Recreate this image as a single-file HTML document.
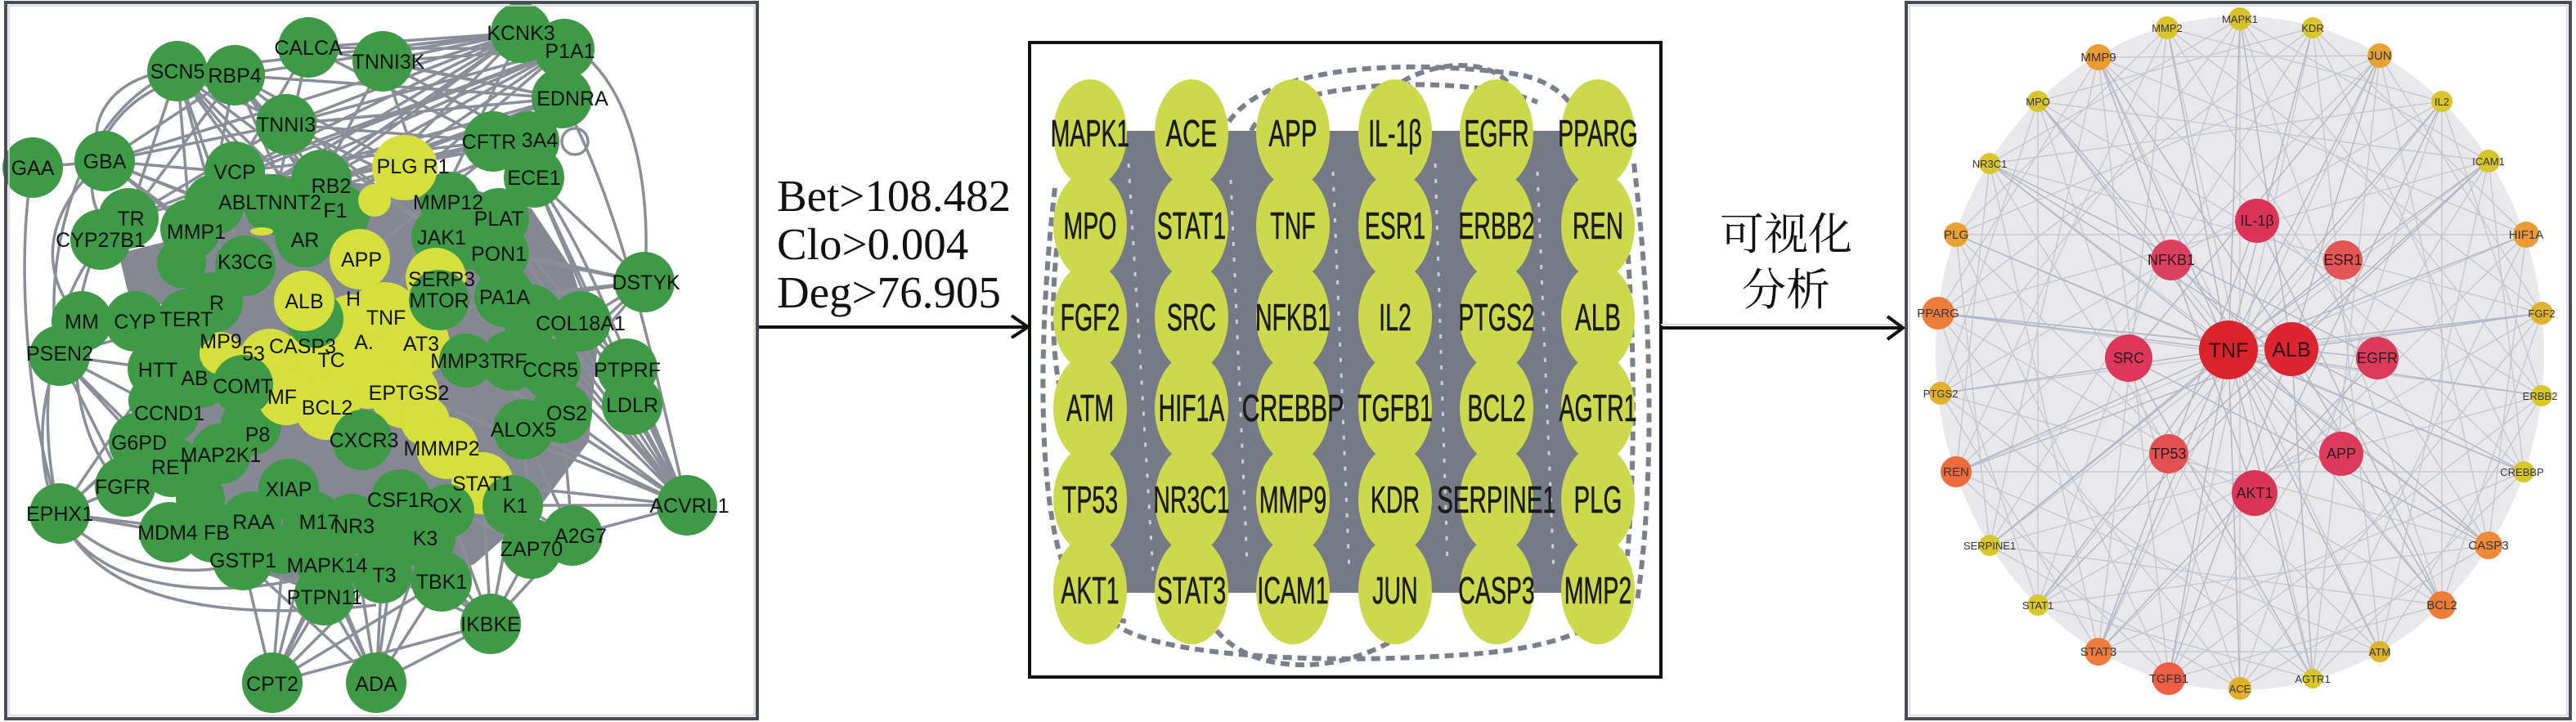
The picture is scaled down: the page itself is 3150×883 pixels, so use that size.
<!DOCTYPE html>
<html>
<head>
<meta charset="utf-8">
<style>
html,body{margin:0;padding:0;background:#fff;}
body{width:3150px;height:883px;overflow:hidden;}
svg{display:block;}
.lt{font-family:"Liberation Sans",Arial,sans-serif;font-size:25px;fill:#111;text-anchor:middle;}
.mt{font-family:"Liberation Sans",Arial,sans-serif;font-size:46px;fill:#1b1b1b;stroke:#1b1b1b;stroke-width:0.6;text-anchor:middle;}
.rt{font-family:"Liberation Sans",Arial,sans-serif;fill:#33333c;text-anchor:middle;}
.rs{font-size:13px;}
.rm{font-size:15px;}
.ri{font-size:18px;fill:#2a1a1e;}
.rb{font-size:25px;fill:#2a1012;}
.ser{font-family:"Liberation Serif","Times New Roman",serif;font-size:55px;fill:#111;}
.cjk{font-family:"Liberation Serif","Noto Serif CJK SC","Noto Sans CJK SC",serif;font-size:54px;fill:#111;text-anchor:middle;}
</style>
</head>
<body>
<svg width="3150" height="883" viewBox="0 0 3150 883" xmlns="http://www.w3.org/2000/svg">
<rect x="0" y="0" width="3150" height="883" fill="#fff"/>

<!-- ================= LEFT PANEL ================= -->
<g id="left">
  <!-- dense gray core -->
  <polygon fill="#858893" points="200,310 250,245 330,215 450,225 560,225 650,255 700,330 730,430 720,540 660,620 580,690 480,725 360,715 290,690 240,630 210,560 200,440"/>
  <polygon fill="#858893" points="145,310 205,295 220,372 160,372"/>
  <!-- edge lines -->
  <g fill="none" stroke="#8b8e99" stroke-width="3.5">
    <path d="M217 87L393 220M217 87L335 250M217 87L300 325M217 87L157 267M217 87L420 290M217 87L470 390M217 87L350 152M217 87L262 250M217 87L233 280
             M287 92L440 317M287 92L540 290M287 92L610 267M287 92L230 390M287 92L373 290M287 92L393 220M287 92L415 262M287 92L157 267
             M377 58L637 40M377 58L690 60M377 58L687 120M468 75L637 40M468 75L690 60M468 75L687 120M377 58L603 173M468 75L647 173M377 58L335 250M377 58L287 210M468 75L393 220M468 75L540 290
             M637 40L287 92M637 40L217 87M637 40L287 210M637 40L335 250M637 40L128 197M637 40L393 220M637 40L470 390M637 40L233 280M637 40L350 152M637 40L415 262
             M690 60L350 152M690 60L287 210M690 60L157 267M690 60L300 325M690 60L420 290M690 60L262 250M690 60L393 220
             M687 120L287 92M687 120L217 87M687 120L377 58M687 120L233 280M687 120L335 250M687 120L157 267M687 120L350 152M687 120L440 317
             M350 152L128 197M350 152L157 267M350 152L603 173M350 152L540 290M350 152L637 40M350 152L550 247
             M128 197L287 92M128 197L393 220M128 197L300 325M128 197L233 280M128 197L440 317M40 205L128 197M128 197L350 152M128 197L262 250
             M603 173L287 210M603 173L262 250M603 173L335 250M647 173L393 220M647 173L300 325
             M788 345L653 217M788 345L610 310M788 345L617 363M788 345L470 390M788 345L540 290M788 345L640 525M788 345L673 451M788 345L710 393
             M840 618L653 217M840 618L610 267M840 618L617 363M840 618L710 393M840 618L673 451M840 618L640 525M840 618L570 441M840 618L590 591M840 618L500 480M840 618L767 451M840 618L773 495M840 618L687 505M840 618L610 310M840 618L650 385M840 618L627 618M840 618L700 655
             M773 495L653 217M767 451L610 267M773 495L617 363M767 451L650 385M773 495L540 290M767 451L610 310
             M333 835L297 685M333 835L400 691M333 835L353 598M333 835L430 641M333 835L540 711M333 835L600 763M333 835L397 728M333 835L383 638M333 835L467 701
             M460 835L400 691M460 835L397 728M460 835L540 711M460 835L430 641M460 835L467 701M460 835L600 763M460 835L353 598M460 835L297 685M460 835L520 658M460 835L490 611
             M600 763L520 658M600 763L540 711M600 763L547 618M600 763L467 701M600 763L650 671M600 763L700 655M600 763L443 617M600 763L590 591M600 763L430 641M600 763L627 618
             M73 628L153 595M73 628L170 541M73 628L207 651M73 628L193 451M73 628L207 505M73 628L260 651M73 628L210 571
             M73 435L153 595M73 435L170 541M73 435L207 505M73 435L193 451M73 435L210 571M73 435L165 393M73 435L230 390
             M700 655L590 591M700 655L640 525M650 671L547 618M650 671L590 591M700 655L687 505M650 671L640 525"/>
    <path d="M217 87C130 90 100 160 128 200M287 92C150 80 90 200 120 260M217 87C80 140 50 350 73 435M160 267C60 330 40 500 73 628M123 293C70 400 90 550 153 595M73 628C110 720 260 740 400 700M73 628C140 700 250 710 297 685M73 435C40 500 50 600 73 628M653 217C720 300 790 500 840 618M687 120C760 250 800 450 840 618M637 40C760 40 800 200 788 345M40 205C20 300 30 500 73 628M128 197C60 250 40 330 100 393M73 628C120 740 280 760 460 740"/>
    <circle cx="703" cy="173" r="16"/>
  </g>
  <!-- background green nodes -->
  <g fill="#3f9a47">
    <circle cx="40" cy="205" r="37"/><circle cx="128" cy="197" r="37"/><circle cx="217" cy="87" r="37"/><circle cx="287" cy="92" r="37"/>
    <circle cx="377" cy="58" r="37"/><circle cx="468" cy="75" r="37"/><circle cx="637" cy="40" r="37"/><circle cx="690" cy="60" r="37"/>
    <circle cx="687" cy="120" r="37"/><circle cx="603" cy="173" r="37"/><circle cx="647" cy="173" r="37"/><circle cx="653" cy="217" r="37"/>
    <circle cx="350" cy="152" r="37"/><circle cx="287" cy="210" r="37"/><circle cx="393" cy="220" r="37"/><circle cx="262" cy="250" r="37"/>
    <circle cx="335" cy="250" r="37"/><circle cx="415" cy="262" r="37"/><circle cx="157" cy="267" r="37"/><circle cx="123" cy="293" r="37"/>
    <circle cx="233" cy="280" r="37"/><circle cx="373" cy="290" r="37"/><circle cx="300" cy="325" r="37"/><circle cx="222" cy="322" r="30"/>
    <circle cx="550" cy="247" r="37"/><circle cx="610" cy="267" r="37"/><circle cx="540" cy="290" r="37"/><circle cx="610" cy="310" r="37"/>
    <circle cx="575" cy="300" r="30"/><circle cx="617" cy="363" r="37"/><circle cx="650" cy="385" r="37"/><circle cx="710" cy="393" r="37"/>
    <circle cx="788" cy="345" r="37"/><circle cx="100" cy="393" r="37"/><circle cx="165" cy="393" r="37"/><circle cx="260" cy="370" r="37"/>
    <circle cx="73" cy="435" r="37"/><circle cx="193" cy="451" r="37"/><circle cx="245" cy="462" r="37"/><circle cx="207" cy="505" r="37"/>
    <circle cx="170" cy="541" r="37"/><circle cx="307" cy="520" r="37"/><circle cx="270" cy="555" r="37"/><circle cx="210" cy="571" r="37"/>
    <circle cx="153" cy="595" r="37"/><circle cx="73" cy="628" r="37"/><circle cx="207" cy="651" r="37"/><circle cx="260" cy="651" r="37"/>
    <circle cx="307" cy="638" r="37"/><circle cx="383" cy="638" r="37"/><circle cx="430" cy="641" r="37"/><circle cx="297" cy="685" r="37"/>
    <circle cx="400" cy="691" r="37"/><circle cx="397" cy="728" r="37"/><circle cx="467" cy="701" r="37"/><circle cx="333" cy="835" r="37"/>
    <circle cx="460" cy="835" r="37"/><circle cx="625" cy="441" r="37"/><circle cx="673" cy="451" r="37"/><circle cx="767" cy="451" r="37"/>
    <circle cx="773" cy="495" r="37"/><circle cx="687" cy="505" r="37"/><circle cx="520" cy="658" r="37"/><circle cx="840" cy="618" r="37"/>
    <circle cx="700" cy="655" r="37"/><circle cx="650" cy="671" r="37"/><circle cx="540" cy="711" r="37"/><circle cx="600" cy="763" r="37"/>
    <circle cx="345" cy="672" r="30"/><circle cx="480" cy="655" r="32"/><circle cx="245" cy="610" r="30"/>
    <circle cx="215" cy="425" r="30"/><circle cx="185" cy="490" r="28"/>
  </g>
  <!-- yellow blob -->
  <g fill="#d5df3d">
    <circle cx="495" cy="205" r="40"/><circle cx="458" cy="245" r="20"/>
    <circle cx="440" cy="317" r="37"/><circle cx="533" cy="340" r="37"/>
    <circle cx="470" cy="390" r="45"/><circle cx="430" cy="400" r="40"/><circle cx="510" cy="420" r="40"/>
    <circle cx="390" cy="440" r="45"/><circle cx="330" cy="440" r="38"/><circle cx="270" cy="432" r="26"/>
    <circle cx="450" cy="455" r="45"/><circle cx="400" cy="498" r="40"/><circle cx="350" cy="485" r="35"/>
    <circle cx="495" cy="482" r="42"/><circle cx="520" cy="515" r="30"/><circle cx="547" cy="548" r="38"/><circle cx="590" cy="591" r="38"/>
    <ellipse cx="320" cy="283" rx="14" ry="5"/>
  </g>
  <!-- foreground green -->
  <g fill="#3f9a47">
    <circle cx="537" cy="367" r="37"/><circle cx="230" cy="390" r="37"/><circle cx="297" cy="471" r="37"/><circle cx="353" cy="598" r="37"/>
    <circle cx="443" cy="538" r="37"/><circle cx="490" cy="611" r="37"/><circle cx="547" cy="625" r="33"/><circle cx="627" cy="618" r="37"/>
    <circle cx="640" cy="525" r="37"/><circle cx="570" cy="441" r="33"/><circle cx="385" cy="390" r="35"/>
  </g>
  <circle cx="372" cy="368" r="37" fill="#d5df3d"/>
  <!-- labels -->
  <g class="lt">
    <text x="40" y="214">GAA</text><text x="128" y="206">GBA</text><text x="217" y="96">SCN5</text><text x="287" y="101">RBP4</text>
    <text x="377" y="67">CALCA</text><text x="475" y="84">TNNI3K</text><text x="637" y="49">KCNK3</text><text x="697" y="71">P1A1</text>
    <text x="700" y="129">EDNRA</text><text x="598" y="182">CFTR</text><text x="660" y="180">3A4</text><text x="653" y="226">ECE1</text>
    <text x="350" y="161">TNNI3</text><text x="287" y="219">VCP</text><text x="405" y="236">RB2</text><text x="330" y="256">ABLTNNT2</text>
    <text x="410" y="266">F1</text><text x="160" y="276">TR</text><text x="123" y="302">CYP27B1</text><text x="240" y="292">MMP1</text>
    <text x="373" y="302">AR</text><text x="300" y="329">K3CG</text><text x="442" y="326">APP</text><text x="505" y="212">PLG R1</text>
    <text x="548" y="256">MMP12</text><text x="610" y="276">PLAT</text><text x="540" y="299">JAK1</text><text x="610" y="319">PON1</text>
    <text x="540" y="350">SERP3</text>
    <text x="537" y="376">MTOR</text><text x="617" y="372">PA1A</text><text x="790" y="354">DSTYK</text><text x="710" y="404">COL18A1</text>
    <text x="100" y="402">MM</text><text x="165" y="402">CYP</text><text x="228" y="399">TERT</text><text x="265" y="379">R</text>
    <text x="73" y="441">PSEN2</text><text x="193" y="461">HTT</text><text x="238" y="471">AB</text><text x="297" y="481">COMT</text>
    <text x="207" y="514">CCND1</text><text x="170" y="550">G6PD</text><text x="315" y="540">P8</text><text x="270" y="565">MAP2K1</text>
    <text x="210" y="580">RET</text><text x="150" y="604">FGFR</text><text x="73" y="637">EPHX1</text><text x="353" y="607">XIAP</text>
    <text x="205" y="660">MDM4</text><text x="265" y="660">FB</text><text x="310" y="647">RAA</text><text x="390" y="647">M17</text>
    <text x="433" y="652">NR3</text><text x="297" y="694">GSTP1</text><text x="400" y="700">MAPK14</text><text x="397" y="739">PTPN11</text>
    <text x="470" y="712">T3</text><text x="333" y="845">CPT2</text><text x="460" y="845">ADA</text><text x="570" y="450">MMP3T</text>
    <text x="628" y="450">RF</text><text x="673" y="461">CCR5</text><text x="767" y="461">PTPRF</text><text x="773" y="504">LDLR</text>
    <text x="693" y="514">OS2</text><text x="640" y="534">ALOX5</text><text x="445" y="547">CXCR3</text><text x="490" y="620">CSF1R</text>
    <text x="547" y="627">OX</text><text x="630" y="627">K1</text><text x="520" y="667">K3</text><text x="843" y="627">ACVRL1</text>
    <text x="710" y="664">A2G7</text><text x="650" y="680">ZAP70</text><text x="540" y="720">TBK1</text><text x="600" y="772">IKBKE</text>
    <text x="372" y="377">ALB</text><text x="472" y="397">TNF</text><text x="432" y="374">H</text><text x="515" y="429">AT3</text>
    <text x="370" y="432">CASP3</text><text x="270" y="426">MP9</text><text x="310" y="441">53</text><text x="405" y="449">TC</text>
    <text x="445" y="427">A.</text><text x="345" y="494">MF</text><text x="400" y="507">BCL2</text><text x="500" y="489">EPTGS2</text>
    <text x="540" y="557">MMMP2</text><text x="590" y="600">STAT1</text>
  </g>
  <!-- panel border -->
  <rect x="7" y="3" width="919" height="876" fill="none" stroke="#4a4d57" stroke-width="4"/>
  <rect x="11" y="7" width="911" height="868" fill="none" stroke="#d4d4d8" stroke-width="1.5"/>
</g>

<!-- ================= ARROW 1 ================= -->
<g>
  <line x1="928" y1="400" x2="1256" y2="400" stroke="#111" stroke-width="4"/>
  <polyline points="1237,386 1257,400 1237,413" fill="none" stroke="#111" stroke-width="4"/>
  <text class="ser" x="950" y="258">Bet&gt;108.482</text>
  <text class="ser" x="950" y="317">Clo&gt;0.004</text>
  <text class="ser" x="950" y="376">Deg&gt;76.905</text>
</g>

<!-- ================= MIDDLE PANEL ================= -->
<g id="mid">
  <rect x="1332" y="160" width="622" height="565" fill="#767a86"/>
  <g stroke="#f4f4f4" stroke-width="3" stroke-dasharray="5 14" fill="none" opacity="0.7">
    <path d="M1380 200L1410 700M1505 220L1525 690M1630 210L1650 700M1755 200L1770 690M1880 210L1900 700"/>
  </g>
  <g fill="none" stroke="#7b7f8b" stroke-width="6" stroke-dasharray="11 7">
    <path d="M1290 230C1270 400 1268 600 1300 690"/>
    <path d="M1300 250C1285 330 1285 420 1295 470"/>
    <path d="M1490 200C1480 80 1700 70 1850 90C1920 100 1945 150 1938 200"/>
    <path d="M1530 160C1560 95 1800 90 1880 125"/>
    <path d="M1700 110C1750 70 1830 70 1850 110"/>
    <path d="M1998 200C2022 400 2022 600 2002 735"/>
    <path d="M1985 240C2000 400 2000 560 1990 680"/>
    <path d="M1360 760C1400 800 1600 815 1800 800C1900 792 1960 770 1982 730"/>
    <path d="M1470 740C1500 825 1620 830 1700 785"/>
    <path d="M1330 700C1330 740 1360 760 1380 760"/>
  </g>
  <g fill="#cdd94d">
    <ellipse cx="1333" cy="163" rx="45" ry="66"/><ellipse cx="1457" cy="163" rx="45" ry="66"/><ellipse cx="1581" cy="163" rx="45" ry="66"/><ellipse cx="1706" cy="163" rx="45" ry="66"/><ellipse cx="1830" cy="163" rx="45" ry="66"/><ellipse cx="1954" cy="163" rx="45" ry="66"/>
    <ellipse cx="1333" cy="276" rx="45" ry="66"/><ellipse cx="1457" cy="276" rx="45" ry="66"/><ellipse cx="1581" cy="276" rx="45" ry="66"/><ellipse cx="1706" cy="276" rx="45" ry="66"/><ellipse cx="1830" cy="276" rx="45" ry="66"/><ellipse cx="1954" cy="276" rx="45" ry="66"/>
    <ellipse cx="1333" cy="388" rx="45" ry="66"/><ellipse cx="1457" cy="388" rx="45" ry="66"/><ellipse cx="1581" cy="388" rx="45" ry="66"/><ellipse cx="1706" cy="388" rx="45" ry="66"/><ellipse cx="1830" cy="388" rx="45" ry="66"/><ellipse cx="1954" cy="388" rx="45" ry="66"/>
    <ellipse cx="1333" cy="499" rx="45" ry="66"/><ellipse cx="1457" cy="499" rx="45" ry="66"/><ellipse cx="1581" cy="499" rx="45" ry="66"/><ellipse cx="1706" cy="499" rx="45" ry="66"/><ellipse cx="1830" cy="499" rx="45" ry="66"/><ellipse cx="1954" cy="499" rx="45" ry="66"/>
    <ellipse cx="1333" cy="611" rx="45" ry="66"/><ellipse cx="1457" cy="611" rx="45" ry="66"/><ellipse cx="1581" cy="611" rx="45" ry="66"/><ellipse cx="1706" cy="611" rx="45" ry="66"/><ellipse cx="1830" cy="611" rx="45" ry="66"/><ellipse cx="1954" cy="611" rx="45" ry="66"/>
    <ellipse cx="1333" cy="722" rx="45" ry="66"/><ellipse cx="1457" cy="722" rx="45" ry="66"/><ellipse cx="1581" cy="722" rx="45" ry="66"/><ellipse cx="1706" cy="722" rx="45" ry="66"/><ellipse cx="1830" cy="722" rx="45" ry="66"/><ellipse cx="1954" cy="722" rx="45" ry="66"/>
  </g>
  <g class="mt">
    <text transform="translate(1333,179) scale(0.62,1)">MAPK1</text><text transform="translate(1457,179) scale(0.66,1)">ACE</text><text transform="translate(1581,179) scale(0.64,1)">APP</text><text transform="translate(1706,179) scale(0.62,1)">IL-1β</text><text transform="translate(1830,179) scale(0.62,1)">EGFR</text><text transform="translate(1954,179) scale(0.62,1)">PPARG</text>
    <text transform="translate(1333,292) scale(0.62,1)">MPO</text><text transform="translate(1457,292) scale(0.62,1)">STAT1</text><text transform="translate(1581,292) scale(0.62,1)">TNF</text><text transform="translate(1706,292) scale(0.62,1)">ESR1</text><text transform="translate(1830,292) scale(0.62,1)">ERBB2</text><text transform="translate(1954,292) scale(0.64,1)">REN</text>
    <text transform="translate(1333,404) scale(0.62,1)">FGF2</text><text transform="translate(1457,404) scale(0.62,1)">SRC</text><text transform="translate(1581,404) scale(0.62,1)">NFKB1</text><text transform="translate(1706,404) scale(0.62,1)">IL2</text><text transform="translate(1830,404) scale(0.62,1)">PTGS2</text><text transform="translate(1954,404) scale(0.64,1)">ALB</text>
    <text transform="translate(1333,515) scale(0.62,1)">ATM</text><text transform="translate(1457,515) scale(0.62,1)">HIF1A</text><text transform="translate(1581,515) scale(0.66,1)">CREBBP</text><text transform="translate(1706,515) scale(0.62,1)">TGFB1</text><text transform="translate(1830,515) scale(0.62,1)">BCL2</text><text transform="translate(1954,515) scale(0.62,1)">AGTR1</text>
    <text transform="translate(1333,627) scale(0.62,1)">TP53</text><text transform="translate(1457,627) scale(0.62,1)">NR3C1</text><text transform="translate(1581,627) scale(0.62,1)">MMP9</text><text transform="translate(1706,627) scale(0.62,1)">KDR</text><text transform="translate(1830,627) scale(0.64,1)">SERPINE1</text><text transform="translate(1954,627) scale(0.64,1)">PLG</text>
    <text transform="translate(1333,738) scale(0.62,1)">AKT1</text><text transform="translate(1457,738) scale(0.62,1)">STAT3</text><text transform="translate(1581,738) scale(0.62,1)">ICAM1</text><text transform="translate(1706,738) scale(0.62,1)">JUN</text><text transform="translate(1830,738) scale(0.62,1)">CASP3</text><text transform="translate(1954,738) scale(0.62,1)">MMP2</text>
  </g>
  <rect x="1259" y="52" width="772" height="776" fill="none" stroke="#111" stroke-width="4"/>
</g>

<!-- ================= ARROW 2 ================= -->
<g>
  <line x1="2031" y1="397" x2="2327" y2="397" stroke="#d8d8d8" stroke-width="2"/>
  <line x1="2031" y1="401" x2="2326" y2="401" stroke="#111" stroke-width="4"/>
  <polyline points="2308,387 2327,401 2308,415" fill="none" stroke="#111" stroke-width="4"/>
  <text class="cjk" x="2184" y="305">可视化</text>
  <text class="cjk" x="2184" y="373">分析</text>
</g>

<!-- ================= RIGHT PANEL ================= -->
<g id="right">
  <ellipse cx="2739" cy="432" rx="372" ry="412" fill="#e9e9ec"/>
  <g fill="none" stroke="#c6c8d0" stroke-width="1.4">
    <path d="M2739 23L3108 484M2828 34L3086 577M2910 68L3043 667M2986 124L2986 740M3043 197L2910 797M3089 287L2828 830M3108 383L2739 842M3108 484L2652 830M3086 577L2566 797M3043 667L2492 740M2986 740L2433 667M2910 797L2392 577M2828 830L2373 481M2739 842L2370 383M2652 830L2392 287M2566 797L2433 200M2492 740L2492 124M2433 667L2566 70M2392 577L2650 34M2373 481L2739 23M2370 383L2828 34M2392 287L2910 68M2433 200L2986 124M2492 124L3043 197M2566 70L3089 287M2650 34L3108 383"/>
    <path d="M2739 23L2986 740M2828 34L2910 797M2910 68L2828 830M2986 124L2739 842M3043 197L2652 830M3089 287L2566 797M3108 383L2492 740M3108 484L2433 667M3086 577L2392 577M3043 667L2373 481M2986 740L2370 383M2910 797L2392 287M2828 830L2433 200M2739 842L2492 124M2652 830L2566 70M2566 797L2650 34M2492 740L2739 23M2433 667L2828 34M2392 577L2910 68M2373 481L2986 124M2370 383L3043 197M2392 287L3089 287M2433 200L3108 383M2492 124L3108 484M2566 70L3086 577M2650 34L3043 667"/>
    <path d="M2739 23L2739 842M2828 34L2652 830M2910 68L2566 797M2986 124L2492 740M3043 197L2433 667M3089 287L2392 577M3108 383L2373 481M3108 484L2370 383M3086 577L2392 287M3043 667L2433 200M2986 740L2492 124M2910 797L2566 70M2828 830L2650 34"/>
    <path d="M2739 23L3043 197M2828 34L3089 287M2910 68L3108 383M2986 124L3108 484M3043 197L3086 577M3089 287L3043 667M3108 383L2986 740M3108 484L2910 797M3086 577L2828 830M3043 667L2739 842M2986 740L2652 830M2910 797L2566 797M2828 830L2492 740M2739 842L2433 667M2652 830L2392 577M2566 797L2373 481M2492 740L2370 383M2433 667L2392 287M2392 577L2433 200M2373 481L2492 124M2370 383L2566 70M2392 287L2650 34M2433 200L2739 23M2492 124L2828 34M2566 70L2910 68M2650 34L2986 124"/>
  </g>
  <g fill="none" stroke="#b4b7c2" stroke-width="1.5">
    <path d="M2739 23L2725 428M2828 34L2725 428M2910 68L2725 428M2986 124L2725 428M3043 197L2725 428M3089 287L2725 428M3108 383L2725 428M3108 484L2725 428M3086 577L2725 428M3043 667L2725 428M2986 740L2725 428M2910 797L2725 428M2828 830L2725 428M2739 842L2725 428M2652 830L2725 428M2566 797L2725 428M2492 740L2725 428M2433 667L2725 428M2392 577L2725 428M2373 481L2725 428M2370 383L2725 428M2392 287L2725 428M2433 200L2725 428M2492 124L2725 428M2566 70L2725 428M2650 34L2725 428"/>
    <path d="M2739 23L2802 427M2910 68L2802 427M3043 197L2802 427M3108 383L2802 427M3086 577L2802 427M2986 740L2802 427M2828 830L2802 427M2652 830L2802 427M2492 740L2802 427M2392 577L2802 427M2370 383L2802 427M2433 200L2802 427M2566 70L2802 427"/>
    <path d="M2603 438L2910 68M2603 438L3043 667M2603 438L2828 830M2907 438L2433 200M2907 438L2566 797M2907 438L2370 383M2760 270L2566 797M2760 270L2986 740M2757 603L2566 70M2757 603L2986 124M2655 318L3043 667M2865 318L2433 667M2652 555L3043 197M2863 555L2492 124"/>
  </g>
  <circle cx="2739" cy="23" r="14" fill="#d8c12c"/>
  <circle cx="2828" cy="34" r="13" fill="#d8c62b"/>
  <circle cx="2910" cy="68" r="15" fill="#e8a134"/>
  <circle cx="2986" cy="124" r="13" fill="#d8c62b"/>
  <circle cx="3043" cy="197" r="14" fill="#d8c52b"/>
  <circle cx="3089" cy="287" r="16" fill="#eb9a35"/>
  <circle cx="3108" cy="383" r="14" fill="#e0b22e"/>
  <circle cx="3108" cy="484" r="13" fill="#d8c62b"/>
  <circle cx="3086" cy="577" r="13" fill="#d8c62b"/>
  <circle cx="3043" cy="667" r="17" fill="#ee8a38"/>
  <circle cx="2986" cy="740" r="17" fill="#ee7d3a"/>
  <circle cx="2910" cy="797" r="13" fill="#deb42c"/>
  <circle cx="2828" cy="830" r="12" fill="#d8c62b"/>
  <circle cx="2739" cy="842" r="14" fill="#e0b02d"/>
  <circle cx="2652" cy="830" r="20" fill="#ee5e45"/>
  <circle cx="2566" cy="797" r="17" fill="#ef7c3a"/>
  <circle cx="2492" cy="740" r="13" fill="#d8c62b"/>
  <circle cx="2433" cy="667" r="13" fill="#d8c62b"/>
  <circle cx="2392" cy="577" r="19" fill="#ef6b3c"/>
  <circle cx="2373" cy="481" r="14" fill="#e0b02e"/>
  <circle cx="2370" cy="383" r="20" fill="#ef7d3a"/>
  <circle cx="2392" cy="287" r="15" fill="#e9a134"/>
  <circle cx="2433" cy="200" r="13" fill="#d8c62b"/>
  <circle cx="2492" cy="124" r="13" fill="#d8c52b"/>
  <circle cx="2566" cy="70" r="16" fill="#eb9a34"/>
  <circle cx="2650" cy="34" r="14" fill="#d8c62b"/>
  <circle cx="2760" cy="270" r="27" fill="#dc3456"/>
  <circle cx="2655" cy="318" r="25" fill="#dc4060"/>
  <circle cx="2865" cy="318" r="24" fill="#e25656"/>
  <circle cx="2603" cy="438" r="29" fill="#dc3658"/>
  <circle cx="2725" cy="428" r="36" fill="#d9232b"/>
  <circle cx="2802" cy="427" r="33" fill="#dc2530"/>
  <circle cx="2907" cy="438" r="26" fill="#dc3a5a"/>
  <circle cx="2652" cy="555" r="24" fill="#e35050"/>
  <circle cx="2863" cy="555" r="27" fill="#dc3a5a"/>
  <circle cx="2757" cy="603" r="28" fill="#da3456"/>
  <g class="rt rs">
    <text x="2739" y="28">MAPK1</text><text x="2828" y="39">KDR</text><text x="2986" y="129">IL2</text><text x="3043" y="202">ICAM1</text>
    <text x="3106" y="489">ERBB2</text><text x="3084" y="582">CREBBP</text><text x="2910" y="802">ATM</text><text x="2828" y="835">AGTR1</text>
    <text x="2492" y="745">STAT1</text><text x="2433" y="672">SERPINE1</text><text x="2433" y="205">NR3C1</text><text x="2492" y="129">MPO</text>
    <text x="2650" y="39">MMP2</text><text x="2739" y="847">ACE</text><text x="2373" y="486">PTGS2</text><text x="3108" y="388">FGF2</text>
  </g>
  <g class="rt rm">
    <text x="2910" y="73">JUN</text><text x="3089" y="292">HIF1A</text><text x="3043" y="672">CASP3</text><text x="2986" y="745">BCL2</text>
    <text x="2652" y="835">TGFB1</text><text x="2566" y="802">STAT3</text><text x="2392" y="582">REN</text><text x="2370" y="388">PPARG</text>
    <text x="2392" y="292">PLG</text><text x="2566" y="75">MMP9</text>
  </g>
  <g class="rt ri">
    <text x="2760" y="276">IL-1β</text><text x="2655" y="324">NFKB1</text><text x="2865" y="324">ESR1</text><text x="2603" y="444">SRC</text>
    <text x="2907" y="444">EGFR</text><text x="2652" y="561">TP53</text><text x="2863" y="561">APP</text><text x="2757" y="609">AKT1</text>
  </g>
  <g class="rt rb">
    <text x="2725" y="437">TNF</text><text x="2802" y="436">ALB</text>
  </g>
  <rect x="2331" y="3" width="812" height="876" fill="none" stroke="#4a4d57" stroke-width="4"/>
  <rect x="2335" y="7" width="804" height="868" fill="none" stroke="#d4d4d8" stroke-width="1.5"/>
</g>
</svg>
</body>
</html>
